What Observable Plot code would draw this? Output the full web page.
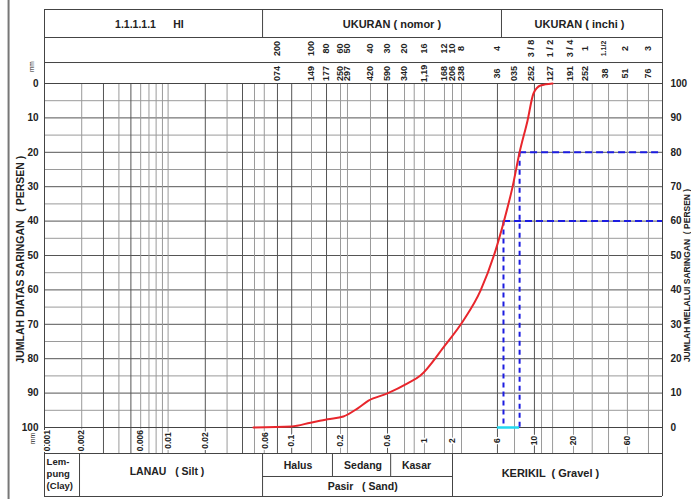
<!DOCTYPE html>
<html><head><meta charset="utf-8">
<script src="https://cdn.jsdelivr.net/npm/d3@7"></script>
<script src="https://cdn.jsdelivr.net/npm/@observablehq/plot@0.6"></script>
<style>body{margin:0;background:#fff}</style>
</head><body><div id="chart"></div>
<script>
// ---------- DATA ----------
// grading curve: grain size (mm) vs percent retained (JUMLAH DIATAS SARINGAN)
const curveMm = [0.049, 0.1, 0.142, 0.195, 0.262, 0.34, 0.418, 0.595, 0.865, 1.1, 1.69, 2.45, 3.37, 4.46, 5.18, 6.11, 6.98, 8.09, 9.04, 10.3, 12.9];
const curveRetained = [100, 99.7, 98.6, 97.6, 96.8, 94.5, 92.2, 90.1, 87.2, 84.9, 76.7, 68.9, 60.2, 48.5, 40.4, 30.2, 20, 10.8, 2.9, 0.6, 0];
// characteristic sizes (dashed guides)
const guideMm = [6.98, 5.17];
const guideRetained = [20, 40];
const cyanFrom = 4.62, cyanTo = 6.98;

// y ticks
const yTicks = [0, 10, 20, 30, 40, 50, 60, 70, 80, 90, 100];
const yMinor = [5, 15, 25, 35, 45, 55, 65, 75, 85, 95];
const yMajorInner = [10, 20, 30, 40, 50, 60, 70, 80, 90];

// vertical grid lines (mm)
const gridLight = [0.002, 0.004, 0.006, 0.007, 0.008, 0.009, 0.01, 0.03, 0.05, 0.06, 0.1446, 0.2483, 0.2827, 0.434, 0.818, 0.98, 1.186, 1.722, 2.0, 2.365, 6.35, 10.5, 12.9, 19.05, 27.0, 36.6, 52.0, 77.0];
const gridDark = [0.003, 0.005, 0.02, 0.04, 0.0767, 0.1, 0.1913, 0.596, 4.62, 9.2];

// header: sieve numbers / inches
const noLabels = ["200","100","80","60","50","40","30","20","16","12","10","8","4","3 / 8","1 / 2","3 / 4","1","1.1/2","2","3"];
const noAt = [0.0767,0.1446,0.1913,0.2483,0.2827,0.434,0.596,0.818,1.186,1.722,2.0,2.365,4.62,8.72,12.41,18.0,23.8,33.3,50.2,77.1];
// header: openings
const mmLabels = ["074","149","177","250","297","420","590","340","1,19","168","206","238","36","035","252","127","191","252","38","51","76"];
const mmAt = [0.0767,0.1446,0.1913,0.2483,0.2827,0.434,0.596,0.818,1.186,1.722,2.0,2.365,4.62,6.35,8.72,12.41,18.0,23.8,34.6,50.2,77.1];
// bottom size labels
const sizeLabels = ["0.001","0.002","0.006","0.01","0.02","0.06","0.1","0.2","0.6","1","2","6","10","20","60"];
const sizeAt = [0.00106,0.002,0.006,0.01,0.02,0.061,0.1,0.2483,0.596,1.186,2.0,4.62,9.2,19.05,52.0];

// ---------- LAYOUT (scale units: x in mm, y in percent; header/footer extend beyond 0..100) ----------
const L = {
  pageTop: -24.2, pageBot: 121, pageLeft: 0.000512,
  top: -21.51, r1: -13.37, r2: -6.10, bot: 100, lab: 107.56, mid: 114.24, end: 120.06,
  t1: -17.2, t2: -10.17, t3: -2.9, tLab: 103.8,
  xMin: 0.001, xMax: 100,
  divSilt: 0.0581, divClay: 0.00192, divHalus: 0.2137, divSedang: 0.632, divSand: 2.0, divHead: 4.98
};

const font = "'Liberation Sans', Arial, Helvetica, sans-serif";
const ink = "#222";
const tableStroke = "#444";
const curve = curveMm.map((d, i) => ({mm: d, r: curveRetained[i]}));
const guides = guideMm.map((d, i) => ({mm: d, r: guideRetained[i]}));
const noData = noLabels.map((t, i) => ({t, mm: noAt[i]}));
const mmData = mmLabels.map((t, i) => ({t, mm: mmAt[i]}));
const sizeData = sizeLabels.map((t, i) => ({t, mm: sizeAt[i]}));
const B = {fill: ink, fontWeight: "bold", fontFamily: font};

function txt(str, x, y, opts) {
  return Plot.text([str], Object.assign({x: x, y: y, text: d => d}, B, opts));
}

const chart = Plot.plot({
  width: 691, height: 499,
  marginLeft: 44, marginRight: 29, marginTop: 83, marginBottom: 72,
  x: {type: "log", domain: [L.xMin, L.xMax], range: [44, 662], axis: null},
  y: {domain: [0, 100], range: [83, 427], axis: null},
  style: {fontFamily: font, background: "#fff", color: ink},
  marks: [
    // page border
    Plot.ruleX([L.pageLeft], {y1: L.pageTop, y2: L.pageBot, stroke: "#777", strokeWidth: 2}),
    // grid
    Plot.ruleY(yMinor, {x1: L.xMin, x2: L.xMax, stroke: "#9a9a9a"}),
    Plot.ruleY(yMajorInner, {x1: L.xMin, x2: L.xMax, stroke: "#555"}),
    Plot.ruleX(gridLight, {y1: 0, y2: L.lab, stroke: "#9a9a9a"}),
    Plot.ruleX(gridDark, {y1: 0, y2: L.lab, stroke: "#555"}),
    // table / frame lines
    Plot.ruleY([L.top, L.r1, L.r2, 0, L.bot, L.lab, L.end], {x1: L.xMin, x2: L.xMax, stroke: tableStroke}),
    Plot.ruleX([L.xMin, L.xMax], {y1: L.top, y2: L.end, stroke: tableStroke}),
    Plot.ruleX([L.divSilt, L.divHead], {y1: L.top, y2: L.r1, stroke: tableStroke}),
    Plot.ruleY([L.mid], {x1: L.divSilt, x2: L.divSand, stroke: tableStroke}),
    Plot.ruleX([L.divClay, L.divSilt, L.divSand], {y1: L.lab, y2: L.end, stroke: tableStroke}),
    Plot.ruleX([L.divHalus, L.divSedang], {y1: L.lab, y2: L.mid, stroke: tableStroke}),
    // cyan segment
    Plot.ruleY([100], {x1: cyanFrom, x2: cyanTo, stroke: "#22d8f0", strokeWidth: 2.5}),
    // dashed guides
    Plot.ruleY(guides, {y: "r", x1: "mm", x2: L.xMax, stroke: "#1c1ce0", strokeWidth: 2, strokeDasharray: "7,4"}),
    Plot.ruleX(guides, {x: "mm", y1: "r", y2: 100, stroke: "#1c1ce0", strokeWidth: 2, strokeDasharray: "5,4"}),
    // grading curve
    Plot.line(curve, {x: "mm", y: "r", stroke: "#e8262c", strokeWidth: 2, curve: "monotone-x"}),
    // y tick labels
    Plot.text(yTicks, Object.assign({x: L.xMin, y: d => d, text: d => String(d), dx: -6, textAnchor: "end", fontSize: 10}, B)),
    Plot.text(yTicks, Object.assign({x: L.xMax, y: d => d, text: d => String(100 - d), dx: 8, textAnchor: "start", fontSize: 10}, B)),
    // axis titles
    txt("JUMLAH DIATAS SARINGAN   ( PERSEN )", 0.000645, 51.2, {rotate: -90, fontSize: 10.5}),
    txt("JUMLAH MELALUI SARINGAN  ( PERSEN )", 158, 55.8, {rotate: -90, fontSize: 8.5}),
    txt("mm", 0.000785, -4.9, {rotate: -90, fontSize: 6.5, fontWeight: "normal"}),
    txt("mm", 0.0008, 103.2, {rotate: -90, fontSize: 7, fontWeight: "normal"}),
    // header row 1
    txt("1.1.1.1.1", 0.00545, L.t1, {fontSize: 10.5}),
    txt("HI", 0.01213, L.t1, {fontSize: 10.5}),
    txt("UKURAN ( nomor )", 0.647, L.t1, {fontSize: 11}),
    txt("UKURAN ( inchi )", 21.3, L.t1, {fontSize: 11}),
    // header rows 2, 3
    Plot.text(noData.filter(d => d.t !== "1.1/2"), Object.assign({x: "mm", y: L.t2, text: "t", rotate: -90, fontSize: 9}, B)),
    Plot.text(noData.filter(d => d.t === "1.1/2"), Object.assign({x: "mm", y: L.t2, text: "t", rotate: -90, fontSize: 7}, B)),
    Plot.text(mmData, Object.assign({x: "mm", y: L.t3, text: "t", rotate: -90, fontSize: 9}, B)),
    // bottom size labels (white halo over the grid)
    Plot.text(sizeData, Object.assign({x: "mm", y: L.tLab, text: "t", rotate: -90, fontSize: 8.5, stroke: "#fff", strokeWidth: 3}, B)),
    // footer boxes
    txt("Lem-", 0.00104, 109.9, {textAnchor: "start", fontSize: 9.5}),
    txt("pung", 0.00104, 113.4, {textAnchor: "start", fontSize: 9.5}),
    txt("(Clay)", 0.00104, 116.9, {textAnchor: "start", fontSize: 9.5}),
    txt("LANAU   ( Silt )", 0.0098, 112.8, {fontSize: 10.5}),
    txt("Halus", 0.1125, 111.05, {fontSize: 10.5}),
    txt("Sedang", 0.378, 111.0, {fontSize: 10.5}),
    txt("Kasar", 1.023, 111.0, {fontSize: 10.5}),
    txt("Pasir   ( Sand)", 0.375, 117.3, {fontSize: 10.5}),
    txt("KERIKIL  ( Gravel )", 12.4, 113.4, {fontSize: 11})
  ]
});
document.getElementById("chart").appendChild(chart);
</script>
</body></html>
